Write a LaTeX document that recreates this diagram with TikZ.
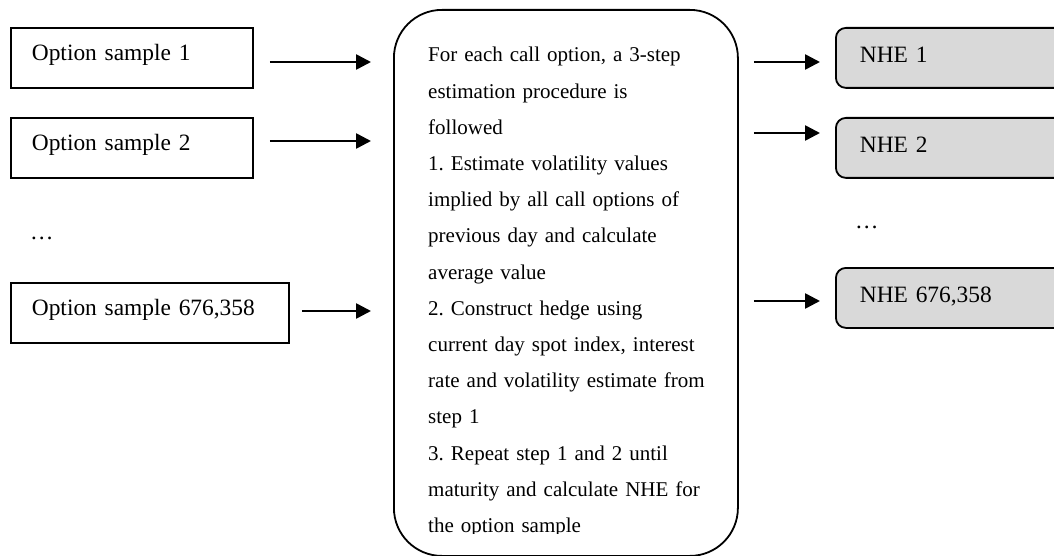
\documentclass[tikz,border=0pt]{standalone}
\usepackage{fontspec}
\setmainfont{Liberation Serif}
\usetikzlibrary{arrows.meta,positioning}
\frenchspacing

\begin{document}
\begin{tikzpicture}[
    x=1pt, y=-1pt,
    sample/.style={draw, line width=1.8pt, anchor=north west, minimum height=60pt, inner xsep=21pt, align=left, font=\fontsize{23.4}{28}\selectfont, text height=15pt, text depth=9pt},
    result/.style={draw, line width=1.8pt, fill=black!15, rounded corners=10pt, anchor=north west, minimum height=60pt, inner xsep=24pt, text width=192pt, align=left, font=\fontsize{23.4}{28}\selectfont, text height=17pt, text depth=7pt},
    feed/.style={-{Triangle[length=15pt, width=15pt]}, line width=2.6pt},
    dots/.style={anchor=base west, inner sep=0pt, font=\fontsize{23.4}{28}\selectfont}
]

\useasboundingbox (0,0) rectangle (1054,556);
\clip (0,0) rectangle (1054,556);

% Option samples
\node[sample, text width=200pt] (s1) at (10,27) {Option sample 1};
\node[sample, text width=200pt] (s2) at (10,117) {Option sample 2};
\node[dots] (ldots) at (30,239) {…};
\node[sample, text width=236pt] (s3) at (10,282) {Option sample 676,358};

% Estimation procedure
\node[draw, line width=1.8pt, rounded corners=48pt, anchor=north west, minimum width=344pt, minimum height=546pt] (proc) at (393,9) {};
\begin{scope}
\clip (393,9) rectangle (737,533);
\node[anchor=base west, inner sep=0pt, text width=300pt, align=left, font=\fontsize{21}{36.2}\selectfont] (steps) at (428,62) {For each call option, a 3-step\\estimation procedure is\\followed\\1. Estimate volatility values\\implied by all call options of\\previous day and calculate\\average value\\2. Construct hedge using\\current day spot index, interest\\rate and volatility estimate from\\step 1\\3. Repeat step 1 and 2 until\\maturity and calculate NHE for\\the option sample};
\end{scope}

% NHE results
\node[result] (n1) at (835,27) {NHE 1};
\node[result] (n2) at (835,117) {NHE 2};
\node[dots] (rdots) at (855,228) {…};
\node[result] (n3) at (835,267) {NHE 676,358};

% Arrows
\coordinate (la) at (0,62);
\coordinate (lb) at (0,141);
\coordinate (lc) at (0,311);
\coordinate (ra) at (0,62);
\coordinate (rb) at (0,133);
\coordinate (rc) at (0,301);
\draw[feed, shorten <=16pt, shorten >=22pt] (s1.east |- la) -- (proc.west |- la);
\draw[feed, shorten <=16pt, shorten >=22pt] (s2.east |- lb) -- (proc.west |- lb);
\draw[feed, shorten <=12pt, shorten >=22pt] (s3.east |- lc) -- (proc.west |- lc);
\draw[feed, shorten <=15pt, shorten >=15pt] (proc.east |- ra) -- (n1.west |- ra);
\draw[feed, shorten <=15pt, shorten >=15pt] (proc.east |- rb) -- (n2.west |- rb);
\draw[feed, shorten <=15pt, shorten >=15pt] (proc.east |- rc) -- (n3.west |- rc);

\end{tikzpicture}
\end{document}
